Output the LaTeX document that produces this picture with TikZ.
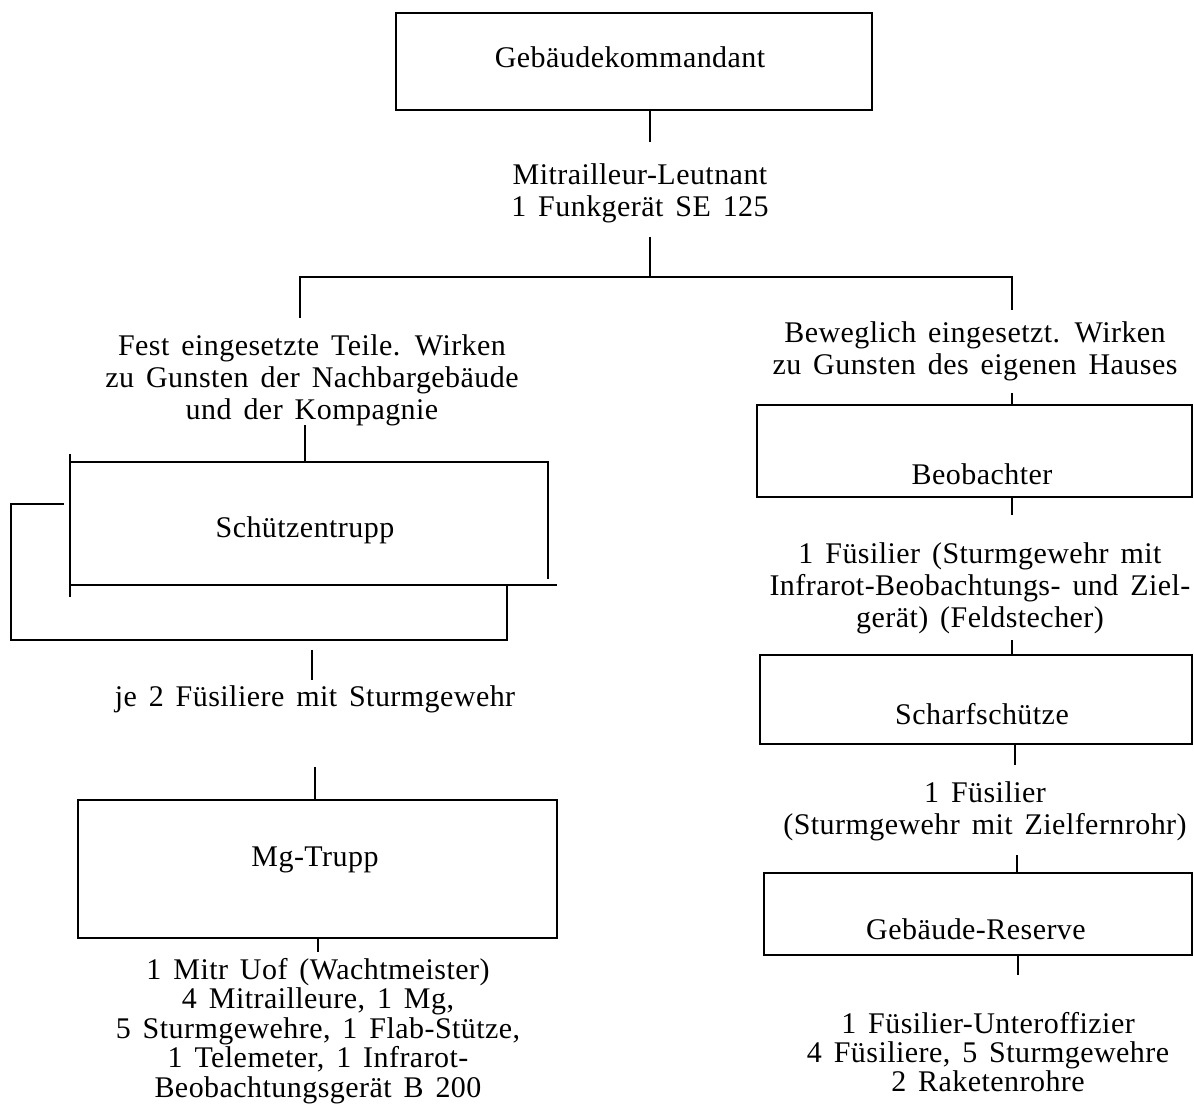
\documentclass[tikz,border=0pt]{standalone}
\usepackage{fontspec}
\setmainfont[WordSpace=1.5,LetterSpace=1.5]{Liberation Serif}
\begin{document}
\begin{tikzpicture}[x=0.5pt,y=-0.5pt,
  ln/.style={line width=1.4pt},
  box/.style={draw,line width=1.4pt,inner sep=0pt,outer sep=0pt},
  txt/.style={align=center,inner sep=0pt,font=\fontsize{15}{16}\selectfont},
  txtb/.style={align=center,inner sep=0pt,font=\fontsize{15}{14.7}\selectfont}]
\useasboundingbox (0,0) rectangle (1194,1111);
% boxes
\node[box,minimum width=238pt,minimum height=48.5pt] (top) at (634,61.5) {};
\node[txt] (topt) at (630,57) {Gebäudekommandant};
\node[minimum width=239pt,minimum height=61.5pt,inner sep=0pt,outer sep=0pt] (s) at (309,523.5) {};
\node[txt] (st) at (305,530) {Schützentrupp};
\node[box,minimum width=239.5pt,minimum height=69pt] (mg) at (317.5,869) {};
\node[txt] (mgt) at (315,860) {Mg-Trupp};
\node[box,minimum width=217.5pt,minimum height=46pt] (beob) at (974.5,451) {};
\node[txt] (beobt) at (982,474) {Beobachter};
\node[box,minimum width=216pt,minimum height=44.5pt] (scharf) at (976,699.5) {};
\node[txt] (schart) at (982,714) {Scharfschütze};
\node[box,minimum width=214pt,minimum height=41pt] (res) at (978,914) {};
\node[txt] (rest) at (976,929) {Gebäude-Reserve};
% texts
\node[txt] (ml) at (640,193) {Mitrailleur-Leutnant\\1 Funkgerät SE 125};
\node[txt] (lt) at (312,380) {Fest eingesetzte Teile. Wirken\\zu Gunsten der Nachbargebäude\\und der Kompagnie};
\node[txt] (rt) at (975,351) {Beweglich eingesetzt. Wirken\\zu Gunsten des eigenen Hauses};
\node[txt] (je) at (315,699) {je 2 Füsiliere mit Sturmgewehr};
\node[txtb] (mgl) at (318,1031) {1 Mitr Uof (Wachtmeister)\\4 Mitrailleure, 1 Mg,\\5 Sturmgewehre, 1 Flab-Stütze,\\1 Telemeter, 1 Infrarot-\\Beobachtungsgerät B 200};
\node[txt] (bl) at (980,588) {1 Füsilier (Sturmgewehr mit\\Infrarot-Beobachtungs- und Ziel-\\gerät) (Feldstecher)};
\node[txt] (sl) at (985,811) {1 Füsilier\\(Sturmgewehr mit Zielfernrohr)};
\node[txtb] (rl) at (988,1052) {1 Füsilier-Unteroffizier\\4 Füsiliere, 5 Sturmgewehre\\2 Raketenrohre};
% coordinates
\coordinate (c1) at (650,142);
\coordinate (c2) at (650,237);
\coordinate (bus) at (650,277);
\coordinate (dl) at (300,318);
\coordinate (dr) at (1012,310);
\coordinate (d1) at (305,425);
\coordinate (e1) at (312,650);
\coordinate (e2) at (312,680);
\coordinate (f1) at (315,767);
\coordinate (g1) at (318,952);
\coordinate (h1) at (1012,393);
\coordinate (h2) at (1012,515);
\coordinate (h3) at (1012,640);
\coordinate (h4) at (1015,765);
\coordinate (h5) at (1017,855);
\coordinate (h6) at (1018,975);
% connectors
\draw[ln] (c1 |- top.south) -- (c1);
\draw[ln] (c2) -- (bus);
\draw[ln] (dl) -- (dl |- bus) -- (dr |- bus) -- (dr);
\draw[ln] (d1) -- (d1 |- s.north);
% Schuetzentrupp outline
\draw[ln] (s.north west) -- (s.north east) -- ([yshift=3pt]s.south east);
\draw[ln] ([yshift=4pt]s.north west) -- ([yshift=-6pt]s.south west);
\draw[ln] (s.south west) -- ([xshift=4.5pt]s.south east);
\draw[ln] ([xshift=-3pt,yshift=9.75pt]s.west) -- ++(-26.5pt,0) coordinate (lp1)
  -- (lp1 |- 0,640) coordinate (lp2) -- (lp2 -| 507,0) coordinate (lp3) -- (lp3 |- s.south);
\draw[ln] (e1) -- (e2);
\draw[ln] (f1) -- (f1 |- mg.north);
\draw[ln] (g1 |- mg.south) -- (g1);
\draw[ln] (h1) -- (h1 |- beob.north);
\draw[ln] (h2 |- beob.south) -- (h2);
\draw[ln] (h3) -- (h3 |- scharf.north);
\draw[ln] (h4 |- scharf.south) -- (h4);
\draw[ln] (h5) -- (h5 |- res.north);
\draw[ln] (h6 |- res.south) -- (h6);
\end{tikzpicture}
\end{document}
